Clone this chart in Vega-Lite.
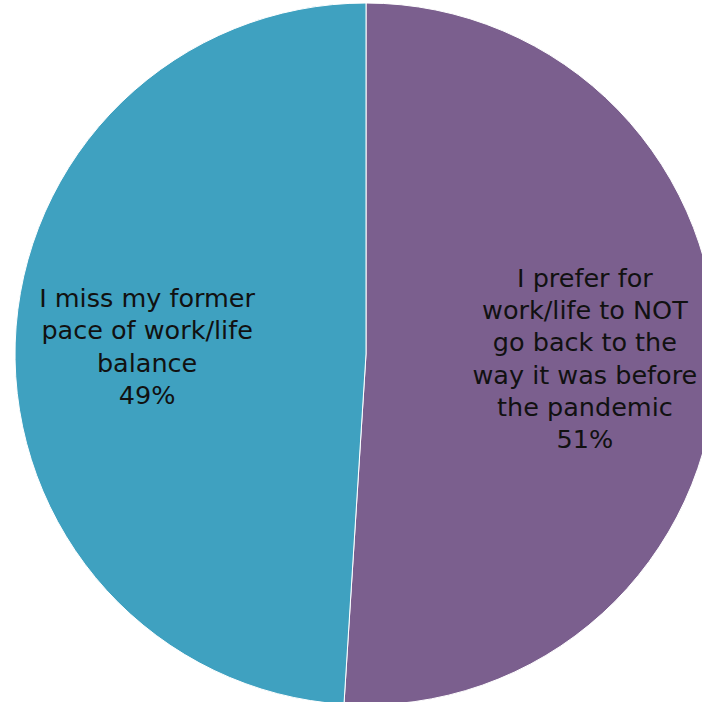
{
  "$schema": "https://vega.github.io/schema/vega-lite/v6.json",
  "width": 702,
  "height": 702,
  "autosize": {"type": "none"},
  "padding": {"left": 15, "top": 3, "right": 0, "bottom": 0},
  "background": "white",
  "data": {
    "values": [
      {"label": "I prefer for\nwork/life to NOT\ngo back to the\nway it was before\nthe pandemic\n51%", "category": "Prefer not to go back", "value": 51, "ord": 1},
      {"label": "I miss my former\npace of work/life\nbalance\n49%", "category": "Miss former pace", "value": 49, "ord": 2}
    ]
  },
  "encoding": {
    "theta": {"field": "value", "type": "quantitative", "stack": true},
    "order": {"field": "ord", "type": "quantitative"}
  },
  "layer": [
    {
      "mark": {"type": "arc", "outerRadius": 351, "stroke": "white", "strokeWidth": 1},
      "encoding": {
        "color": {
          "field": "category",
          "type": "nominal",
          "scale": {"domain": ["Prefer not to go back", "Miss former pace"], "range": ["#7B5F8E", "#3FA1C0"]},
          "legend": null
        }
      }
    },
    {
      "mark": {"type": "text", "radius": 219, "dy": -82, "lineBreak": "\n", "font": "DejaVu Sans", "fontSize": 25.5, "lineHeight": 32.3, "color": "#111111", "align": "center", "baseline": "middle"},
      "encoding": {
        "text": {"condition": {"test": "datum.ord == 1", "field": "label"}, "value": ""}
      }
    },
    {
      "mark": {"type": "text", "radius": 219, "dy": -48, "lineBreak": "\n", "font": "DejaVu Sans", "fontSize": 25.5, "lineHeight": 32.3, "color": "#111111", "align": "center", "baseline": "middle"},
      "encoding": {
        "text": {"condition": {"test": "datum.ord == 2", "field": "label"}, "value": ""}
      }
    }
  ]
}
